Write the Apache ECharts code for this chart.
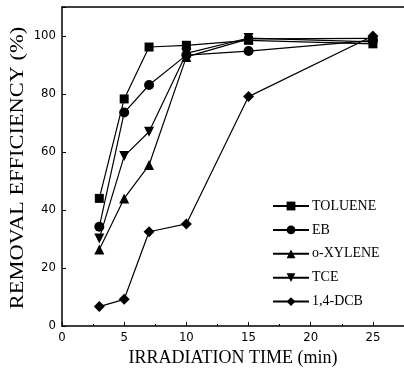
<!DOCTYPE html>
<html><head><meta charset="utf-8">
<script src="https://cdn.jsdelivr.net/npm/echarts@6/dist/echarts.min.js"></script>
<style>html,body{margin:0;padding:0;background:#fff}#c{width:404px;height:370px}</style>
</head><body><div id="c"></div>
<script>
const times = [3, 5, 7, 10, 15, 25];
const toluene = [44, 78.3, 96.2, 96.8, 98.5, 97.3];
const eb = [34.2, 73.6, 83.1, 93.4, 94.8, 98.5];
const oxylene = [26.4, 44, 55.5, 92.8, 99, 99.2];
const tce = [30.2, 58.6, 67, 94, 99.3, 98];
const dcb = [6.7, 9.2, 32.5, 35.2, 79.1, 100];
const xTicks = [0, 5, 10, 15, 20, 25];
const yTicks = [0, 20, 40, 60, 80, 100];

const names = ['TOLUENE', 'EB', 'o-XYLENE', 'TCE', '1,4-DCB'];
const values = [toluene, eb, oxylene, tce, dcb];
const symbols = ['rect', 'circle', 'triangle', 'triangle', 'diamond'];
const rot = [0, 0, 0, 180, 0];
const sizes = [9, 10, 10, 10, 11];

const serif = "'Liberation Serif','DejaVu Serif',serif";
const chart = echarts.init(document.getElementById('c'));
const tickFont = {color: '#000', fontSize: 13, fontFamily: "'Liberation Sans Narrow','DejaVu Sans Condensed',sans-serif"};
chart.setOption({
  animation: false,
  backgroundColor: '#fff',
  grid: {left: 62, top: 7, right: 0, bottom: 44, containLabel: false, outerBoundsMode: 'none'},
  legend: {
    data: names, orient: 'vertical', left: 272, top: 199, padding: 0,
    itemWidth: 36, itemHeight: 11, itemGap: 9.9,
    textStyle: {color: '#000', fontSize: 14, fontFamily: serif, padding: [0, 0, 0, -2]}
  },
  graphic: [{
    type: 'text', x: 18, y: 168, rotation: Math.PI / 2, scaleX: 1.18,
    style: {text: 'REMOVAL EFFICIENCY (%)', fill: '#000', font: '19px ' + serif, align: 'center', verticalAlign: 'middle'}
  }],
  xAxis: [{
    type: 'value', min: 0, max: 27.5, interval: 5,
    name: 'IRRADIATION TIME (min)', nameLocation: 'middle', nameGap: 16,
    nameTextStyle: {color: '#000', fontSize: 18, fontFamily: serif},
    axisLine: {lineStyle: {color: '#000', width: 1.5}},
    axisTick: {inside: true, length: 4, lineStyle: {color: '#000'}},
    minorTick: {show: true, splitNumber: 2, length: 2, lineStyle: {color: '#000'}},
    splitLine: {show: false},
    axisLabel: Object.assign({margin: 5, formatter: v => xTicks.includes(v) ? String(v) : ''}, tickFont)
  }, {
    type: 'value', min: 0, max: 27.5, position: 'top',
    axisLine: {show: true, lineStyle: {color: '#000', width: 1.5}},
    axisTick: {show: false}, axisLabel: {show: false}, splitLine: {show: false}
  }],
  yAxis: {
    type: 'value', min: 0, max: 110, interval: 20,
    axisLine: {lineStyle: {color: '#000', width: 1.5}},
    axisTick: {inside: true, length: 4, lineStyle: {color: '#000'}},
    splitLine: {show: false},
    axisLabel: Object.assign({margin: 6, formatter: v => yTicks.includes(v) ? String(v) : ''}, tickFont)
  },
  series: names.map((n, i) => ({
    name: n, type: 'line',
    data: times.map((t, j) => [t, values[i][j]]),
    symbol: symbols[i], symbolSize: sizes[i], symbolRotate: rot[i],
    itemStyle: {color: '#000'},
    lineStyle: {color: '#000', width: 1.2}
  }))
});
</script></body></html>
